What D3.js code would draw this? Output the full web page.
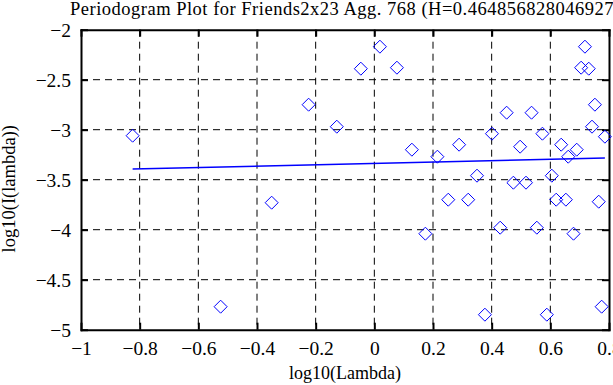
<!DOCTYPE html>
<html><head><meta charset="utf-8">
<script src="https://cdn.jsdelivr.net/npm/d3@7"></script>
<style>
html,body{margin:0;padding:0;background:#fff;overflow:hidden;}
svg{display:block;font-family:"Liberation Serif","Times New Roman",serif;}
</style></head>
<body>
<svg id="chart" width="613" height="385"></svg>
<script>
const titleText = "Periodogram Plot for Friends2x23 Agg. 768 (H=0.464856828046927)";
const xLabel = "log10(Lambda)";
const yLabel = "log10(I(lambda))";
const xTicks = [-1, -0.8, -0.6, -0.4, -0.2, 0, 0.2, 0.4, 0.6, 0.8];
const yTicks = [-2, -2.5, -3, -3.5, -4, -4.5, -5];
const logLambda = [-0.824, -0.524, -0.350, -0.224, -0.128, -0.046, 0.019, 0.077, 0.128, 0.174,
  0.215, 0.252, 0.289, 0.320, 0.350, 0.377, 0.401, 0.429, 0.451, 0.474,
  0.497, 0.517, 0.536, 0.554, 0.573, 0.588, 0.605, 0.620, 0.637, 0.653,
  0.661, 0.679, 0.690, 0.705, 0.718, 0.731, 0.742, 0.752, 0.765, 0.775, 0.786];
const logI = [-3.06, -4.77, -3.73, -2.75, -2.97, -2.39, -2.17, -2.38, -3.20, -4.04,
  -3.27, -3.70, -3.15, -3.70, -3.46, -4.85, -3.04, -3.98, -2.83, -3.53,
  -3.17, -3.53, -2.83, -3.98, -3.04, -4.85, -3.46, -3.70, -3.15, -3.70,
  -3.27, -4.04, -3.20, -2.38, -2.17, -2.39, -2.97, -2.75, -3.72, -4.77, -3.07];
const fitX = [-0.824, 0.786];
const fitY = [-3.393, -3.283];

(function () {
const svg = d3.select("#chart");
const L = 81, R = 609, T = 29.7, B = 329.7;
const x = d3.scaleLinear().domain([-1, 0.8]).range([L, R]);
const y = d3.scaleLinear().domain([-5, -2]).range([B, T]);
const fmt = d => (d < 0 ? "\u2212" : "") + String(Math.abs(d));

// grid
const g = svg.append("g");
g.selectAll("line.vg").data(xTicks.slice(1, -1)).join("line")
  .attr("x1", d => x(d)).attr("x2", d => x(d)).attr("y1", T).attr("y2", B)
  .attr("stroke", "#000").attr("stroke-width", 1).attr("stroke-dasharray", "7,5");
g.selectAll("line.hg").data(yTicks.slice(1, -1)).join("line")
  .attr("y1", d => y(d)).attr("y2", d => y(d)).attr("x1", L).attr("x2", R)
  .attr("stroke", "#000").attr("stroke-width", 1).attr("stroke-dasharray", "7,5");

// axes with inward ticks
const ax = (gen, tr) => svg.append("g").attr("transform", tr).call(gen)
  .call(s => s.select(".domain").attr("stroke-width", 2))
  .call(s => s.selectAll(".tick line").attr("stroke-width", 2));
const axB = ax(d3.axisBottom(x).tickValues(xTicks).tickSizeInner(-7).tickSizeOuter(0).tickFormat(fmt), `translate(0,${B})`);
ax(d3.axisTop(x).tickValues(xTicks).tickSizeInner(-7).tickSizeOuter(0).tickFormat(""), `translate(0,${T})`);
const axL = ax(d3.axisLeft(y).tickValues(yTicks).tickSizeInner(-7).tickSizeOuter(0).tickFormat(fmt), `translate(${L},0)`);
ax(d3.axisRight(y).tickValues(yTicks).tickSizeInner(-7).tickSizeOuter(0).tickFormat(""), `translate(${R},0)`);
axB.selectAll(".tick text").attr("font-size", 19.5).attr("font-family", "Liberation Serif").attr("fill", "#000")
  .attr("y", 25.5).attr("dy", 0);
axL.selectAll(".tick text").attr("font-size", 19.5).attr("font-family", "Liberation Serif").attr("fill", "#000")
  .attr("x", -10).attr("dy", 7);
svg.selectAll(".domain").attr("stroke-linecap", "square");

// fit line
svg.append("line")
  .attr("x1", x(fitX[0])).attr("y1", y(fitY[0])).attr("x2", x(fitX[1])).attr("y2", y(fitY[1]))
  .attr("stroke", "#0000ff").attr("stroke-width", 1.5);

// points
const pts = logLambda.map((d, i) => [d, logI[i]]);
svg.append("g").selectAll("path").data(pts).join("path")
  .attr("d", d => { const cx = x(d[0]), cy = y(d[1]), r = 6.5;
    return `M${cx},${cy - r}L${cx + r},${cy}L${cx},${cy + r}L${cx - r},${cy}Z`; })
  .attr("fill", "none").attr("stroke", "#0000ff").attr("stroke-width", 1);

// labels
svg.append("text").attr("x", 70).attr("y", 15).attr("font-size", 18.5)
  .attr("letter-spacing", 0.5).text(titleText);
svg.append("text").attr("x", (L + R) / 2).attr("y", 379).attr("text-anchor", "middle")
  .attr("font-size", 18).text(xLabel);
svg.append("text").attr("transform", `translate(15,${(T + B) / 2 + 9}) rotate(-90)`)
  .attr("text-anchor", "middle").attr("font-size", 18.5).text(yLabel);
})();
</script>
</body></html>
